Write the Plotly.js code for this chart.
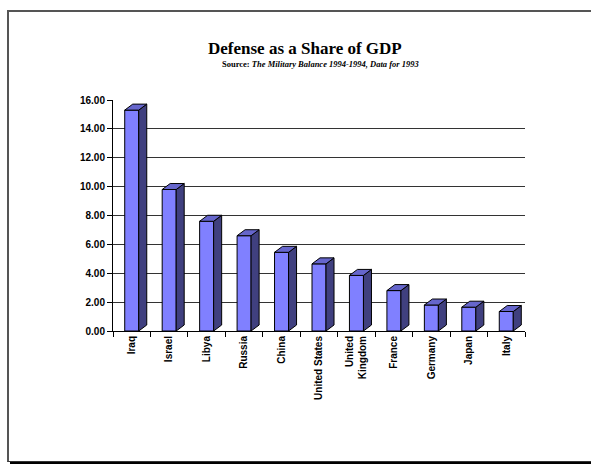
<!DOCTYPE html>
<html>
<head>
<meta charset="utf-8">
<script src="https://cdn.plot.ly/plotly-3.0.1.min.js"></script>
<style>
  html, body { margin: 0; padding: 0; background: #fff; }
  #wrap { position: relative; width: 591px; height: 464px; overflow: hidden; }
  #chart { position: absolute; left: 0; top: 0; width: 591px; height: 464px; }
  #frame { position: absolute; left: 7px; top: 10px; width: 600px; height: 449px;
           border-top: 2px solid #555; border-left: 2px solid #555; border-bottom: 1px solid #333;
           box-shadow: 3px 3px 0 #000; pointer-events: none; }
</style>
</head>
<body>
<div id="wrap">
  <div id="chart"></div>
  <div id="frame"></div>
</div>
<script>
const countries = ["Iraq", "Israel", "Libya", "Russia", "China", "United States",
                   "United<br>Kingdom", "France", "Germany", "Japan", "Italy"];
const shareOfGDP = [15.3, 9.8, 7.6, 6.6, 5.45, 4.65, 3.85, 2.8, 1.8, 1.65, 1.35];
const yTicks = [0, 2, 4, 6, 8, 10, 12, 14, 16];

const idx = countries.map((c, i) => i);
const halfW = 0.187;   // half bar width (category units)
const depthX = 0.214;  // 3D depth offset (category units)
const depthY = 0.415;  // 3D depth offset (value units)

const traces = [];
traces.push({
  type: 'bar', x: idx, y: shareOfGDP, width: 2 * halfW,
  marker: { color: '#8080FF', line: { color: '#000', width: 1 } },
  hoverinfo: 'skip', showlegend: false
});
shareOfGDP.forEach((v, i) => {
  const xr = i + halfW, xl = i - halfW;
  // side face
  traces.push({
    type: 'scatter', mode: 'lines', fill: 'toself', fillcolor: '#40407F',
    x: [xr, xr + depthX, xr + depthX, xr, xr],
    y: [0, depthY, v + depthY, v, 0],
    line: { color: '#000', width: 1 }, hoverinfo: 'skip', showlegend: false
  });
  // top face
  traces.push({
    type: 'scatter', mode: 'lines', fill: 'toself', fillcolor: '#6666CC',
    x: [xl, xr, xr + depthX, xl + depthX, xl],
    y: [v, v, v + depthY, v + depthY, v],
    line: { color: '#000', width: 1 }, hoverinfo: 'skip', showlegend: false
  });
});

const tickFont = { family: 'Arial, "Liberation Sans", sans-serif', size: 10, color: '#000', weight: 'bold' };

const layout = {
  width: 591, height: 464,
  margin: { l: 113, r: 66, t: 100, b: 133 },
  paper_bgcolor: 'rgba(0,0,0,0)', plot_bgcolor: 'rgba(0,0,0,0)',
  showlegend: false,
  xaxis: {
    type: 'linear', range: [-0.5, 10.5], fixedrange: true,
    tickmode: 'array', tickvals: idx, ticktext: countries.map(c => '<b>' + c + '</b>'),
    tickangle: -90, ticks: '', ticklen: 0, tickfont: tickFont,
    showgrid: false, zeroline: false,
    showline: true, linecolor: '#000', linewidth: 1,
    minor: { tickmode: 'array', tickvals: [-0.5, 0.5, 1.5, 2.5, 3.5, 4.5, 5.5, 6.5, 7.5, 8.5, 9.5, 10.5],
             ticks: 'outside', ticklen: 5, tickcolor: '#000', tickwidth: 1, showgrid: false }
  },
  yaxis: {
    range: [0, 16], fixedrange: true,
    tickmode: 'array', tickvals: yTicks, ticktext: yTicks.map(t => '<b>' + t.toFixed(2) + '</b>'),
    ticks: 'outside', ticklen: 5, tickcolor: '#000', tickfont: tickFont,
    showgrid: true, gridcolor: '#333', gridwidth: 1,
    zeroline: false, showline: true, linecolor: '#000', linewidth: 1
  },
  annotations: [
    { xref: 'paper', yref: 'paper', x: 0.466, y: 1 + 52 / 231, xanchor: 'center', yanchor: 'middle',
      showarrow: false, text: '<b>Defense as a Share of GDP</b>',
      font: { family: '"Times New Roman", "Liberation Serif", serif', size: 17, color: '#000' } },
    { xref: 'paper', yref: 'paper', x: 0.505, y: 1 + 36 / 231, xanchor: 'center', yanchor: 'middle',
      showarrow: false, text: '<b>Source: <i>The Military Balance 1994-1994, Data for 1993</i></b>',
      font: { family: '"Times New Roman", "Liberation Serif", serif', size: 8.5, color: '#000' } }
  ]
};

Plotly.newPlot('chart', traces, layout, { staticPlot: true, displayModeBar: false });
</script>
</body>
</html>
